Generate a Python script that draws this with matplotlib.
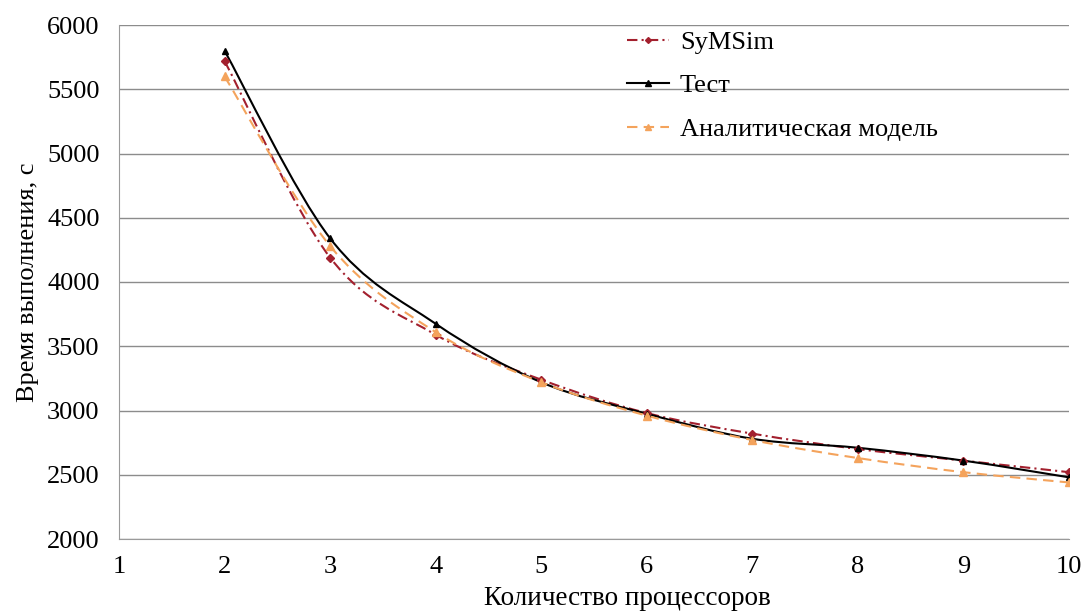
import numpy as np
import matplotlib
matplotlib.use('Agg')
import matplotlib.pyplot as plt
from matplotlib.path import Path
from matplotlib.patches import PathPatch
from matplotlib.lines import Line2D

plt.rcParams['font.family'] = ['Liberation Serif', 'DejaVu Serif']

procs = [2, 3, 4, 5, 6, 7, 8, 9, 10]
symsim = [5720, 4190, 3590, 3240, 2980, 2820, 2700, 2610, 2520]
test = [5800, 4340, 3675, 3220, 2975, 2780, 2710, 2610, 2480]
model = [5600, 4280, 3610, 3220, 2960, 2770, 2630, 2520, 2440]

labels = ['SyMSim', 'Тест', 'Аналитическая модель']


def smooth_path(x, y):
    # catmull-rom as cubic bezier segments (Excel-style smoothed line)
    x = np.asarray(x, float)
    y = np.asarray(y, float)
    verts = [(x[0], y[0])]
    codes = [Path.MOVETO]
    n = len(x)
    for i in range(n - 1):
        x0, y0 = (x[i - 1], y[i - 1]) if i > 0 else (x[i], y[i])
        x3, y3 = (x[i + 2], y[i + 2]) if i + 2 < n else (x[i + 1], y[i + 1])
        c1 = (x[i] + (x[i + 1] - x0) / 6, y[i] + (y[i + 1] - y0) / 6)
        c2 = (x[i + 1] - (x3 - x[i]) / 6, y[i + 1] - (y3 - y[i]) / 6)
        verts += [c1, c2, (x[i + 1], y[i + 1])]
        codes += [Path.CURVE4] * 3
    return Path(verts, codes)


fig = plt.figure(figsize=(10.85, 6.11), dpi=100)
ax = fig.add_axes([119 / 1085, 72 / 611, 950 / 1085, 514 / 611])

styles = [
    dict(data=symsim, color='#A3202E', ls=(0, (5, 2, 1, 2)), lw=1.5, marker='D', ms=4),
    dict(data=test, color='black', ls='-', lw=1.5, marker='^', ms=5),
    dict(data=model, color='#F4A35C', ls=(0, (5, 3)), lw=1.5, marker='^', ms=6),
]

handles = []
for st, lab in zip(styles, labels):
    p = PathPatch(smooth_path(procs, st['data']), fill=False, edgecolor=st['color'],
                  linestyle=st['ls'], lw=st['lw'], zorder=3)
    ax.add_patch(p)
    ax.plot(procs, st['data'], ls='none', marker=st['marker'], ms=st['ms'],
            color=st['color'], zorder=4)
    handles.append(Line2D([], [], color=st['color'], ls=st['ls'], lw=st['lw'],
                          marker=st['marker'], ms=st['ms'] - 1, markevery=[1]))

ax.set_xlim(1, 10)
ax.set_ylim(2000, 6000)
ax.set_xticks(range(1, 11))
ax.set_yticks(range(2000, 6001, 500))
ax.yaxis.grid(True, color='#8c8c8c', lw=1)
ax.set_axisbelow(True)
for s in ['top', 'right']:
    ax.spines[s].set_visible(False)
for s in ['left', 'bottom']:
    ax.spines[s].set_color('#9a9a9a')
ax.tick_params(length=0, labelsize=19)
ax.tick_params(axis='y', pad=14)
ax.tick_params(axis='x', pad=12)
ax.set_xlabel('Количество процессоров', fontsize=19.5)
ax.xaxis.set_label_coords(0.535, -0.092)
ax.set_ylabel('Время выполнения, с', fontsize=19, labelpad=6)

leg = ax.legend(handles, labels, loc='upper left', bbox_to_anchor=(0.51, 1.035),
                frameon=False, fontsize=19, handlelength=1.6, labelspacing=0.75,
                handletextpad=0.4)

fig.savefig('out.png', dpi=100)
